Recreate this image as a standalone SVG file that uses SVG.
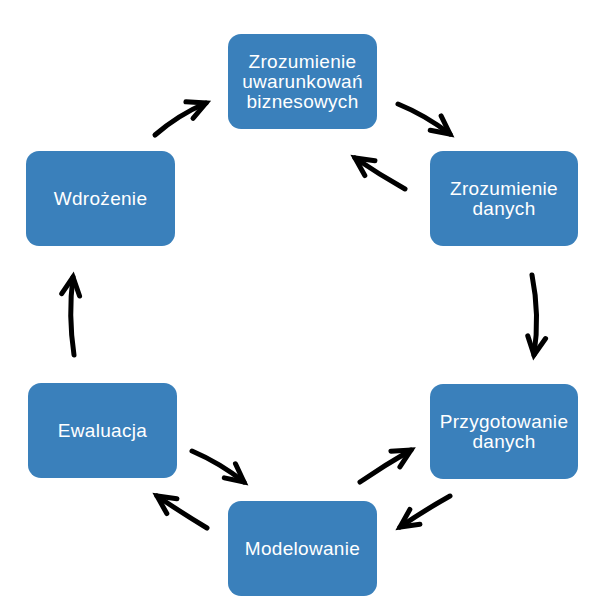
<svg xmlns="http://www.w3.org/2000/svg" width="610" height="610" viewBox="0 0 610 610">
<style>
.box{fill:#3a80bb}
.lbl{fill:#fff;font-family:"Liberation Sans",Arial,sans-serif;font-size:19px;letter-spacing:0.3px;text-anchor:middle}
.arr{fill:none;stroke:#000;stroke-width:5;stroke-linecap:round;stroke-linejoin:round}
</style>
<defs>
<marker id="ah" markerUnits="userSpaceOnUse" orient="auto" refX="0" refY="0" markerWidth="30" markerHeight="30" viewBox="-25 -15 30 30" overflow="visible">
<path d="M-18,-9 L0,0 L-18,9" fill="none" stroke="#000" stroke-width="5" stroke-linecap="round" stroke-linejoin="miter"/>
</marker>
</defs>
<rect width="610" height="610" fill="#fff"/>
<g id="n1"><rect class="box" x="228" y="34" width="149" height="95" rx="13"/>
<text class="lbl" x="302.5" y="67.5">Zrozumienie</text><text class="lbl" x="302.5" y="87.5">uwarunkowań</text><text class="lbl" x="302.5" y="107.5">biznesowych</text></g>
<g id="n2"><rect class="box" x="430" y="151" width="148" height="95" rx="13"/>
<text class="lbl" x="504" y="194.5">Zrozumienie</text><text class="lbl" x="504" y="214.5">danych</text></g>
<g id="n3"><rect class="box" x="430" y="384" width="148" height="95" rx="13"/>
<text class="lbl" x="504" y="427.5">Przygotowanie</text><text class="lbl" x="504" y="447.5">danych</text></g>
<g id="n4"><rect class="box" x="228" y="501" width="149" height="95" rx="13"/>
<text class="lbl" x="302.5" y="554.5">Modelowanie</text></g>
<g id="n5"><rect class="box" x="28" y="383" width="149" height="95" rx="13"/>
<text class="lbl" x="102.5" y="437">Ewaluacja</text></g>
<g id="n6"><rect class="box" x="26" y="151" width="149" height="95" rx="13"/>
<text class="lbl" x="100.5" y="204.5">Wdrożenie</text></g>
<g id="connectors">
<path class="arr" marker-end="url(#ah)" d="M155,135 Q178,115 206,103"/>
<path class="arr" marker-end="url(#ah)" d="M398,104 Q425,115 450,134"/>
<path class="arr" marker-end="url(#ah)" d="M405,189 Q380,175 355,158"/>
<path class="arr" marker-end="url(#ah)" d="M532,275 Q540,315 534,355"/>
<path class="arr" marker-end="url(#ah)" d="M450,496 Q425,510 400,527"/>
<path class="arr" marker-end="url(#ah)" d="M360,482 Q385,465 411,450"/>
<path class="arr" marker-end="url(#ah)" d="M192,451 Q220,463 244,482"/>
<path class="arr" marker-end="url(#ah)" d="M207,528 Q182,513 157,496"/>
<path class="arr" marker-end="url(#ah)" d="M74,355 Q68,315 73,277"/>
</g>
</svg>
